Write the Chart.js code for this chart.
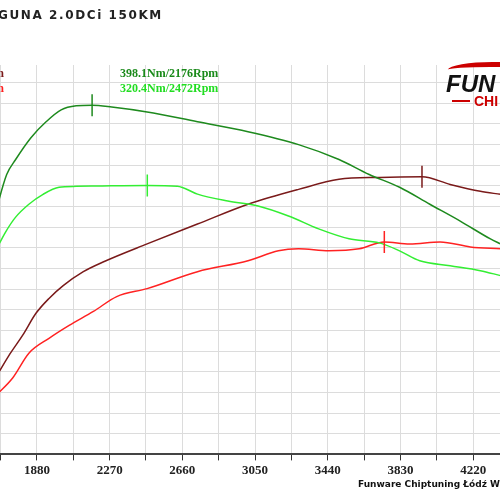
<!DOCTYPE html>
<html>
<head>
<meta charset="utf-8">
<script src="https://cdn.jsdelivr.net/npm/chart.js@4/dist/chart.umd.min.js"></script>
<style>
  html, body { margin: 0; padding: 0; background: #fff; overflow: hidden; }
  #wrap { position: relative; width: 500px; height: 500px; overflow: hidden; }
  #chart { position: absolute; left: -17px; top: 0; }
  .txt { position: absolute; white-space: nowrap; }
</style>
</head>
<body>
<div id="wrap">
  <canvas id="chart" width="530" height="500"></canvas>
  <div class="txt" style="left:-2px;top:8px;font:bold 12px 'DejaVu Sans';letter-spacing:1.6px;color:#222;">GUNA 2.0DCi 150KM</div>
  <div class="txt" style="left:-6px;top:66px;font:bold 12px 'Liberation Serif';color:#7a1a1a;">m</div>
  <div class="txt" style="left:-6px;top:81px;font:bold 12px 'Liberation Serif';color:#ff2020;">m</div>
  <div class="txt" style="left:120px;top:66px;font:bold 12px 'Liberation Serif';color:#1a8a1a;">398.1Nm/2176Rpm</div>
  <div class="txt" style="left:120px;top:81px;font:bold 12px 'Liberation Serif';color:#22dd22;">320.4Nm/2472Rpm</div>
  <div class="txt" style="left:448px;top:62px;width:70px;height:8px;border-top:5px solid #c00;border-radius:60% 0 0 0;transform:skewX(-20deg);"></div>
  <div class="txt" style="left:446px;top:70px;font:italic bold 24px 'Liberation Sans';color:#111;">FUN</div>
  <div class="txt" style="left:452px;top:100px;width:18px;border-top:2px solid #c00;"></div>
  <div class="txt" style="left:474px;top:93px;font:bold 14px 'Liberation Sans';color:#c00;">CHI</div>
  <div class="txt" style="left:358px;top:479px;font:bold 9px 'DejaVu Sans';color:#111;">Funware Chiptuning Łódź Wodor</div>
</div>
<script>
/* ================= DATA ================= */
const rpmTorqueTuned = [1658,1718,1766,1848,1929,2010,2091,2176,2281,2471,2741,3012,3283,3500,3662,3825,3987,4150,4312,4366];
const torqueTuned    = [294.4,331,345.5,366.6,382,393.6,397.5,398.1,396.4,391.6,382,372.4,359.9,345.5,331,318.6,302.2,285.9,268.6,263.8];

const rpmTorqueStock = [1658,1712,1766,1837,1913,1999,2091,2200,2472,2633,2741,2904,3066,3229,3391,3554,3717,3825,3933,4096,4258,4366];
const torqueStock    = [257,275.3,289.7,302.2,311.8,318.6,319.5,319.8,320.4,319.7,312,305.3,300.5,290.8,278.3,268.7,264.8,257.1,247.5,242.7,237.9,233.1];

const rpmPowerTuned  = [1658,1728,1804,1875,1945,2021,2129,2238,2471,2741,3012,3283,3500,3717,3945,4096,4258,4366];
const powerTuned     = [134,155.2,175.4,196.6,211,223.4,236.9,246.5,263.8,283,302.2,316.6,326.3,328.2,328.8,321.4,314.7,311.8];

const rpmPowerStock  = [1658,1750,1837,1945,2053,2183,2308,2471,2741,3012,3175,3283,3446,3608,3743,3879,4042,4204,4366];
const powerStock     = [116.7,134,158,172.4,184.9,198.4,212.8,220.5,236.9,247.5,257.1,259,257.1,259,265.7,263.8,265.7,260.9,259];

const peakRpm   = [2176,2472,3945,3743];
const peakValue = [398.1,320.4,328.8,265.7];

const tickStart = 1685, tickStep = 195;
const xLabels   = [1880,2270,2660,3050,3440,3830,4220];

const COLORS = ["#1e8a1e","#33ee33","#7a1a1a","#ff2222"];

/* ================= CHART ================= */
function series(xs, ys) { return xs.map((x, i) => ({ x: x, y: ys[i] })); }

const lineSets = [
    [rpmTorqueTuned, torqueTuned],
    [rpmTorqueStock, torqueStock],
    [rpmPowerTuned, powerTuned],
    [rpmPowerStock, powerStock]
].map((s, i) => ({
    type: "line",
    data: series(s[0], s[1]),
    borderColor: COLORS[i],
    borderWidth: 1.5,
    pointRadius: 0,
    cubicInterpolationMode: "monotone",
    order: 2
}));

const peakSets = peakRpm.map((r, i) => ({
    type: "scatter",
    data: [{ x: r, y: peakValue[i] }],
    pointStyle: "line",
    rotation: 90,
    radius: 11,
    borderColor: COLORS[i],
    borderWidth: 1.5,
    order: 1
}));

new Chart(document.getElementById("chart"), {
    type: "line",
    data: { datasets: lineSets.concat(peakSets) },
    options: {
        responsive: false,
        animation: false,
        layout: { padding: { top: 65, left: 0, right: 0, bottom: 20 } },
        plugins: { legend: { display: false }, tooltip: { enabled: false } },
        scales: {
            x: {
                type: "linear",
                min: 1658,
                max: 4366,
                afterBuildTicks: axis => {
                    const t = [];
                    for (let v = tickStart; v <= 4366; v += tickStep) t.push({ value: v });
                    axis.ticks = t;
                },
                ticks: {
                    autoSkip: false,
                    maxRotation: 0,
                    color: "#222",
                    font: { family: "Liberation Serif", weight: "bold", size: 13 },
                    padding: 2,
                    callback: v => xLabels.includes(v) ? String(v) : ""
                },
                grid: { color: "#dcdcdc", lineWidth: 1, tickLength: 6, tickColor: "#333" },
                border: { color: "#444", width: 2 }
            },
            y: {
                min: 60,
                max: 437,
                afterBuildTicks: axis => {
                    const t = [];
                    for (let v = 60; v <= 437; v += 20) t.push({ value: v });
                    axis.ticks = t;
                },
                ticks: { display: false },
                grid: { color: "#dcdcdc", lineWidth: 1, drawTicks: false },
                border: { display: false }
            }
        }
    }
});
</script>
</body>
</html>
